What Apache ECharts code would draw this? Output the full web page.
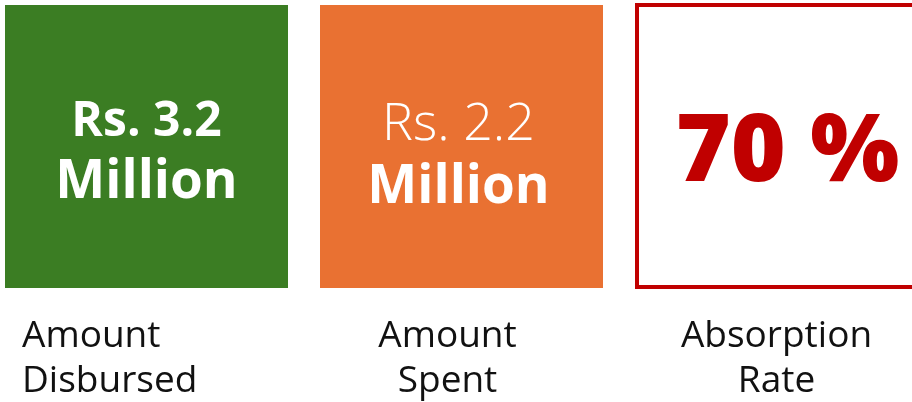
<!DOCTYPE html>
<html>
<head>
<meta charset="utf-8">
<script src="https://cdn.jsdelivr.net/npm/echarts@6/dist/echarts.min.js"></script>
<style>
html,body{margin:0;padding:0;background:#fff;}
#main{width:912px;height:402px;}
</style>
</head>
<body>
<div id="main"></div>
<script>
// Data
const categories = ['Amount Disbursed', 'Amount Spent', 'Absorption Rate'];
const labelLines = [['Amount', 'Disbursed'], ['Amount', 'Spent'], ['Absorption', 'Rate']];
const values = [3.2, 2.2, 70];
const valueFormats = ['money', 'money', 'percent'];
const boxColors = ['#3B7D23', '#E97132', '#C00000'];
const boxStyles = ['fill', 'fill', 'outline'];

const FONT = '"Open Sans", "Noto Sans", sans-serif';

const chart = echarts.init(document.getElementById('main'), null, {renderer: 'canvas'});

function renderItem(params, api) {
  const i = api.value(0);
  const c = api.coord([i, 0]);
  const band = api.size([1, 0])[0];
  const w = band - 32;
  const cx = c[0];
  const x0 = cx - w / 2;
  const top = 5, h = 283;
  const children = [];
  const color = boxColors[i];
  if (boxStyles[i] === 'fill') {
    children.push({type: 'rect', shape: {x: x0, y: top, width: w, height: h}, style: {fill: color}});
  } else {
    children.push({type: 'rect', shape: {x: x0 + 2, y: top, width: w - 4, height: h - 1}, style: {fill: '#fff', stroke: color, lineWidth: 4}});
  }
  const v = api.value(1);
  if (valueFormats[i] === 'money') {
    const light = i === 1;
    const tx = i === 0 ? cx : cx - 3;
    children.push({type: 'text', style: {x: tx, y: i === 0 ? 146 : 151, text: 'Rs. ' + v.toFixed(1), fill: '#fff',
      font: (light ? '300 ' : 'bold ') + (light ? 52 : 48) + 'px ' + FONT, align: 'center', verticalAlign: 'bottom'}});
    children.push({type: 'text', style: {x: tx, y: i === 0 ? 209 : 214, text: 'Million', fill: '#fff',
      font: 'bold 53px ' + FONT, align: 'center', verticalAlign: 'bottom'}});
  } else {
    children.push({type: 'text', style: {x: cx + 11, y: 201, text: v + ' %', fill: color,
      font: '800 94px ' + FONT, align: 'center', verticalAlign: 'bottom'}});
  }
  const lines = labelLines[i];
  const align = i === 0 ? 'left' : 'center';
  const lx = i === 0 ? 22 : (i === 1 ? cx - 14 : cx);
  children.push({type: 'text', style: {x: lx, y: 355, text: lines[0], fill: '#111', font: '37px ' + FONT, align: align, verticalAlign: 'bottom'}});
  children.push({type: 'text', style: {x: lx, y: 400, text: lines[1], fill: '#111', font: '37px ' + FONT, align: align, verticalAlign: 'bottom'}});
  return {type: 'group', children: children};
}

chart.setOption({
  animation: false,
  grid: {left: -11, width: 945, top: 0, bottom: 0, outerBoundsMode: 'none', containLabel: false},
  xAxis: {type: 'category', data: categories, show: false},
  yAxis: {type: 'value', show: false, min: 0, max: 100},
  series: [{
    type: 'custom',
    renderItem: renderItem,
    data: values.map((v, i) => [i, v]),
    clip: false
  }]
});
</script>
</body>
</html>
